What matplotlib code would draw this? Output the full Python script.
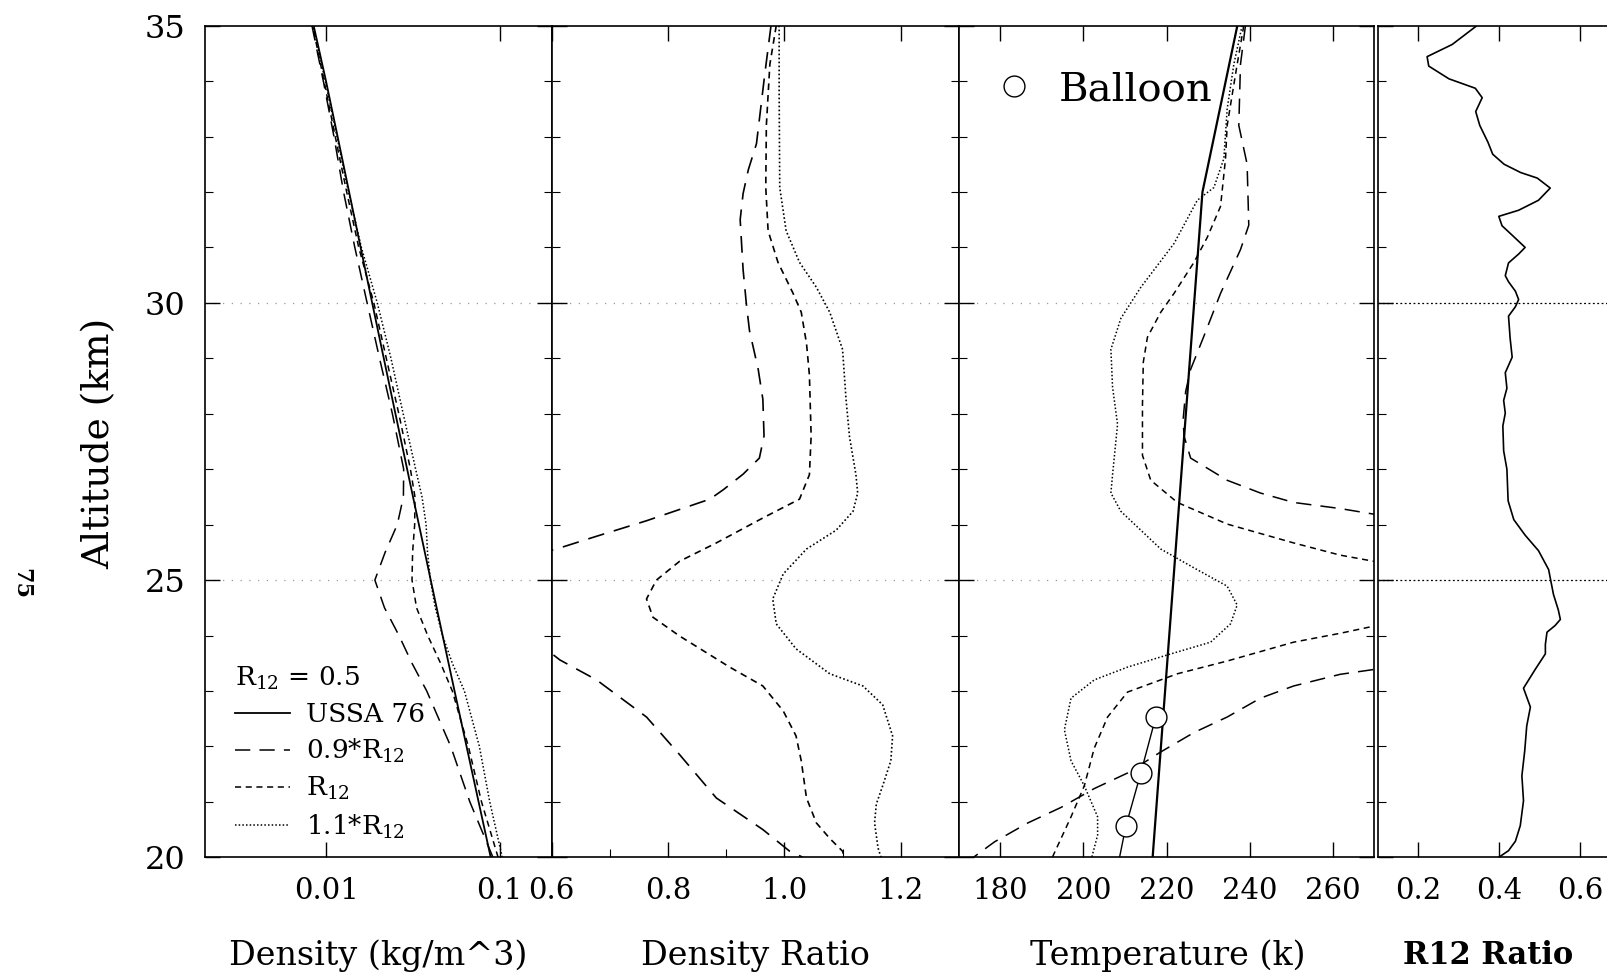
import matplotlib
matplotlib.use("Agg")
import matplotlib.pyplot as plt
from matplotlib.lines import Line2D
from matplotlib.ticker import FixedLocator, FixedFormatter, MultipleLocator, NullLocator

plt.rcParams['font.family'] = ['DejaVu Serif']
plt.rcParams['mathtext.fontset'] = 'dejavuserif'
plt.rcParams['mathtext.default'] = 'regular'

# ------------------------------------------------------------
# Panel 1: density (kg/m^3) vs altitude (km)
# ------------------------------------------------------------
alt_dens = [20, 21, 22, 23, 23.5, 24, 24.5, 25, 25.5, 26, 26.5, 27, 28, 29, 30, 31, 32, 33, 34, 35]
dens_ussa = [0.08891, 0.07572, 0.06451, 0.05500, 0.05081, 0.04694, 0.04337, 0.04008, 0.03706,
             0.03426, 0.03168, 0.02930, 0.02508, 0.02148, 0.01841, 0.01579, 0.01355, 0.01163,
             0.00997, 0.00846]
dens_09 = [0.0916, 0.0674, 0.0523, 0.0380, 0.03125, 0.02629, 0.02169, 0.01908, 0.02187, 0.0257,
           0.02788, 0.02798, 0.02408, 0.0203, 0.01721, 0.01462, 0.01259, 0.01108, 0.00962, 0.00827]
dens_10 = [0.0981, 0.0787, 0.0661, 0.0534, 0.0457, 0.0385, 0.0332, 0.03126, 0.0315, 0.03238,
           0.0325, 0.0306, 0.02623, 0.02221, 0.01882, 0.0154, 0.01312, 0.01127, 0.00971, 0.00834]
dens_11 = [0.1037, 0.0878, 0.0765, 0.0627, 0.0534, 0.0469, 0.0426, 0.0399, 0.0384, 0.0377,
           0.0357, 0.0328, 0.0278, 0.02363, 0.0197, 0.01595, 0.01344, 0.01153, 0.00988, 0.00838]
dens_ticks = [0.01, 0.1]
dens_tick_labels = ['0.01', '0.1']

# ------------------------------------------------------------
# Panel 2: density ratio
# ------------------------------------------------------------
alt_r09 = [35, 34.1, 32.87, 32.4, 31.97, 31.5, 30.6, 29.94, 29.5, 28.8, 28.26, 27.6, 27.2, 26.91,
           26.63, 26.46, 26.07, 25.79, 25.58, 25.3, 25.0, 24.6, 24.0, 23.56, 23.2, 22.53, 21.85,
           21.07, 20.5, 20.11, 20.0]
ratio_09 = [0.977, 0.966, 0.952, 0.938, 0.929, 0.924, 0.929, 0.935, 0.94, 0.955, 0.963, 0.965,
            0.957, 0.929, 0.895, 0.872, 0.763, 0.677, 0.614, 0.52, 0.476, 0.50, 0.56, 0.614,
            0.677, 0.763, 0.82, 0.883, 0.963, 1.009, 1.032]
alt_r10 = [35, 34.3, 33.2, 32.08, 31.3, 30.73, 30.17, 29.83, 29.27, 28.7, 27.6, 26.9, 26.46, 26.12,
           25.67, 25.34, 25.0, 24.66, 24.33, 23.99, 23.43, 23.09, 22.64, 22.19, 21.74, 21.07,
           20.62, 20.34, 20.11, 20.0]
ratio_10 = [0.986, 0.975, 0.969, 0.968, 0.972, 0.989, 1.015, 1.029, 1.038, 1.043, 1.046, 1.043,
            1.026, 0.963, 0.883, 0.82, 0.78, 0.763, 0.774, 0.82, 0.906, 0.963, 0.998, 1.02,
            1.029, 1.038, 1.055, 1.078, 1.1, 1.103]
alt_r11 = [35, 33.76, 32.08, 31.3, 30.73, 30.28, 29.83, 29.16, 28.26, 27.58, 26.9, 26.57, 26.24,
           25.9, 25.56, 25.11, 24.66, 24.21, 23.76, 23.31, 23.09, 22.75, 22.19, 21.74, 21.29,
           20.96, 20.62, 20.17, 20.0]
ratio_11 = [0.991, 0.991, 0.992, 1.003, 1.026, 1.055, 1.078, 1.1, 1.106, 1.112, 1.123, 1.126,
            1.118, 1.089, 1.038, 0.998, 0.98, 0.986, 1.02, 1.078, 1.135, 1.169, 1.186, 1.183,
            1.169, 1.158, 1.155, 1.161, 1.166]
ratio_ticks = [0.6, 0.8, 1.0, 1.2]
ratio_tick_labels = ['0.6', '0.8', '1.0', '1.2']

# ------------------------------------------------------------
# Panel 3: temperature (K)
# ------------------------------------------------------------
alt_t_ussa = [20, 32, 35]
temp_ussa = [216.65, 228.65, 237.05]
alt_t09 = [35, 34.3, 33.2, 32.5, 31.4, 30.96, 30.17, 29.4, 28.8, 28.4, 27.9, 27.6, 27.2, 26.8,
           26.57, 26.4, 26.29, 26.0, 25.0, 23.55, 23.3, 23.09, 22.87, 22.53, 22.25, 21.9, 21.52,
           21.24, 20.9, 20.62, 20.28, 20.0]
temp_09 = [239, 237.8, 237.4, 239.4, 239.8, 237.8, 233, 229, 225.8, 224.6, 224.0, 224.2, 225.8,
           234.6, 242.6, 250.6, 261.8, 285, 300, 285, 261.8, 250.6, 242.6, 234.6, 226.6, 218.6,
           210.6, 202.6, 194.6, 186.6, 178.6, 173.5]
alt_t10 = [35, 34.3, 33.2, 32.6, 31.74, 31.18, 30.73, 30.17, 29.83, 29.38, 28.93, 28.15, 27.25,
           26.8, 26.4, 26.01, 25.67, 25.45, 25.2, 24.75, 24.33, 24.04, 23.88, 23.54, 23.31, 22.98,
           22.53, 21.97, 21.29, 20.73, 20.34, 20.0]
temp_10 = [238.6, 237, 234.6, 234.2, 233, 229.8, 226.6, 221.8, 218.6, 215.4, 214.4, 214.2, 214.2,
           216.2, 222.6, 234.6, 250.6, 261.8, 280, 295, 280, 261.8, 250.6, 234.6, 222.6, 210.6,
           205.8, 202.6, 200.2, 197, 194.6, 192.5]
alt_t11 = [35, 34.3, 33.5, 32.6, 32.08, 31.85, 31.07, 30.28, 29.72, 29.16, 28.48, 27.81, 26.9,
           26.57, 26.24, 25.56, 25.22, 24.89, 24.55, 24.21, 23.88, 23.65, 23.43, 23.2, 22.87,
           22.3, 21.74, 21.29, 20.73, 20.4, 20.0]
temp_11 = [238.2, 236.2, 234.6, 233.8, 231.4, 227.4, 221.8, 213.8, 209, 206.6, 207, 208.2, 207,
           206.6, 209, 218.6, 226.6, 234.6, 237, 235.4, 230.6, 220.2, 210.6, 202.6, 197, 195.4,
           197, 200.2, 203.4, 203.4, 202]
alt_balloon = [22.53, 21.52, 20.56, 19.6]
temp_balloon = [217.4, 213.8, 210.2, 207.6]
temp_ticks = [180, 200, 220, 240, 260]
temp_tick_labels = ['180', '200', '220', '240', '260']

# ------------------------------------------------------------
# Panel 4: R12 ratio
# ------------------------------------------------------------
alt_r12 = [35.0, 34.66, 34.44, 34.27, 34.04, 33.87, 33.70, 33.45, 33.2, 32.9, 32.68, 32.5, 32.35,
           32.25, 32.07, 31.85, 31.67, 31.56, 31.39, 31.22, 31.0, 30.88, 30.72, 30.49, 30.38,
           30.21, 30.06, 29.93, 29.76, 29.36, 29.02, 28.74, 28.46, 28.24, 28.01, 27.78, 27.33,
           27.0, 26.43, 26.09, 25.81, 25.53, 25.19, 24.74, 24.46, 24.29, 24.18, 24.06, 23.84,
           23.67, 23.39, 23.05, 22.71, 22.37, 21.92, 21.47, 21.02, 20.57, 20.29, 20.12, 20.0]
r12 = [0.345, 0.284, 0.222, 0.226, 0.276, 0.341, 0.358, 0.342, 0.352, 0.372, 0.384, 0.412, 0.453,
       0.494, 0.526, 0.497, 0.448, 0.399, 0.407, 0.432, 0.464, 0.448, 0.423, 0.415, 0.423,
       0.44, 0.448, 0.44, 0.423, 0.427, 0.432, 0.415, 0.419, 0.411, 0.415, 0.409, 0.411,
       0.419, 0.422, 0.436, 0.464, 0.497, 0.522, 0.534, 0.546, 0.551, 0.538, 0.518, 0.514,
       0.514, 0.489, 0.46, 0.477, 0.468, 0.463, 0.456, 0.46, 0.452, 0.44, 0.423, 0.399]
r12_ticks = [0.2, 0.4, 0.6]
r12_tick_labels = ['0.2', '0.4', '0.6']

# ------------------------------------------------------------
# Figure
# ------------------------------------------------------------
LONG_DASH = (0, (10, 6))
SHORT_DASH = (0, (4, 3))
DOTS = (0, (1, 1.4))

fig = plt.figure(figsize=(16.08, 9.77), dpi=100)
bottom, height = 0.12251, 0.85128
ax1 = fig.add_axes([0.12755, bottom, 0.21555, height])
ax2 = fig.add_axes([0.34310, bottom, 0.25323, height])
ax3 = fig.add_axes([0.59633, bottom, 0.25827, height])
ax4 = fig.add_axes([0.85678, bottom, 0.25187, height])


def style_axis(ax, ticks, labels, grid_color='0.6', grid_ls=(0, (1, 6))):
    ax.set_ylim(20, 35)
    ax.yaxis.set_major_locator(MultipleLocator(5))
    ax.yaxis.set_minor_locator(MultipleLocator(1))
    ax.xaxis.set_major_locator(FixedLocator(ticks))
    ax.xaxis.set_major_formatter(FixedFormatter(labels))
    ax.xaxis.set_minor_locator(NullLocator())
    ax.tick_params(axis='both', which='both', direction='in', top=True, right=True)
    ax.tick_params(axis='both', which='major', length=11, width=1.0)
    ax.tick_params(axis='both', which='minor', length=6, width=0.8)
    ax.tick_params(axis='x', labelsize=21, pad=14)
    ax.tick_params(axis='y', labelleft=False)
    for s in ax.spines.values():
        s.set_linewidth(1.2)
    for y in (25, 30):
        ax.axhline(y, color=grid_color, ls=grid_ls, lw=0.9, zorder=0)


# Panel 1
ax1.set_xscale('log')
ax1.set_xlim(0.002, 0.2)
ax1.plot(dens_ussa, alt_dens, color='k', lw=1.3, zorder=4)
ax1.plot(dens_09, alt_dens, color='k', lw=1.1, ls=LONG_DASH)
ax1.plot(dens_10, alt_dens, color='k', lw=1.1, ls=SHORT_DASH)
ax1.plot(dens_11, alt_dens, color='k', lw=1.1, ls=DOTS)
style_axis(ax1, dens_ticks, dens_tick_labels)
ax1.tick_params(axis='y', labelleft=True, labelsize=23, pad=14)

handles = [Line2D([], [], color='k', lw=1.3),
           Line2D([], [], color='k', lw=1.1, ls=LONG_DASH),
           Line2D([], [], color='k', lw=1.1, ls=SHORT_DASH),
           Line2D([], [], color='k', lw=1.1, ls=DOTS)]
labels = ['USSA 76', '0.9*R$_{12}$', 'R$_{12}$', '1.1*R$_{12}$']
leg = ax1.legend(handles, labels, title='R$_{12}$ = 0.5', loc='lower left',
                 bbox_to_anchor=(0.085, 0.02), frameon=False, fontsize=19,
                 title_fontsize=19, handlelength=2.1, handletextpad=0.6,
                 labelspacing=0.38, borderpad=0, borderaxespad=0, alignment='left')

# Panel 2
ax2.set_xlim(0.6, 1.3)
ax2.plot(ratio_09, alt_r09, color='k', lw=1.2, ls=LONG_DASH)
ax2.plot(ratio_10, alt_r10, color='k', lw=1.2, ls=SHORT_DASH)
ax2.plot(ratio_11, alt_r11, color='k', lw=1.2, ls=DOTS)
style_axis(ax2, ratio_ticks, ratio_tick_labels)
ax2.xaxis.set_minor_locator(MultipleLocator(0.1))
ax2.tick_params(axis='x', which='minor', top=False)

# Panel 3
ax3.set_xlim(170, 270)
ax3.plot(temp_ussa, alt_t_ussa, color='k', lw=1.6, zorder=4)
ax3.plot(temp_09, alt_t09, color='k', lw=1.1, ls=LONG_DASH)
ax3.plot(temp_10, alt_t10, color='k', lw=1.1, ls=SHORT_DASH)
ax3.plot(temp_11, alt_t11, color='k', lw=1.1, ls=DOTS)
ax3.plot(temp_balloon, alt_balloon, color='k', lw=1.0, marker='o', ms=15,
         mfc='white', mec='k', mew=1.0, zorder=5)
style_axis(ax3, temp_ticks, temp_tick_labels)
bh = [Line2D([], [], ls='none', marker='o', ms=15, mfc='white', mec='k', mew=1.0)]
ax3.legend(bh, ['Balloon'], loc='upper left', bbox_to_anchor=(0.085, 0.945),
           frameon=False, fontsize=29, handlelength=1.0, handletextpad=0.6,
           borderpad=0, borderaxespad=0)

# Panel 4
ax4.set_xlim(0.1, 1.1)
ax4.plot(r12, alt_r12, color='k', lw=1.2)
style_axis(ax4, r12_ticks, r12_tick_labels, grid_color='k', grid_ls=(0, (1.5, 2)))

# Axis titles
ylab = 1 - 956 / 977
fig.text(378 / 1608, ylab, 'Density (kg/m^3)', ha='center', va='center', fontsize=24)
fig.text(755 / 1608, ylab, 'Density Ratio', ha='center', va='center', fontsize=24)
fig.text(1168 / 1608, ylab, 'Temperature (k)', ha='center', va='center', fontsize=24)
fig.text(1488 / 1608, ylab, 'R12 Ratio', ha='center', va='center', fontsize=22,
         fontweight='bold')
fig.text(99.5 / 1608, 1 - 443 / 977, 'Altitude (km)', rotation=90, ha='center',
         va='center', fontsize=27)
fig.text(21 / 1608, 1 - 584 / 977, '75', rotation=-90, ha='center', va='center',
         fontsize=16, fontweight='bold')

fig.savefig('out.png', dpi=100)
